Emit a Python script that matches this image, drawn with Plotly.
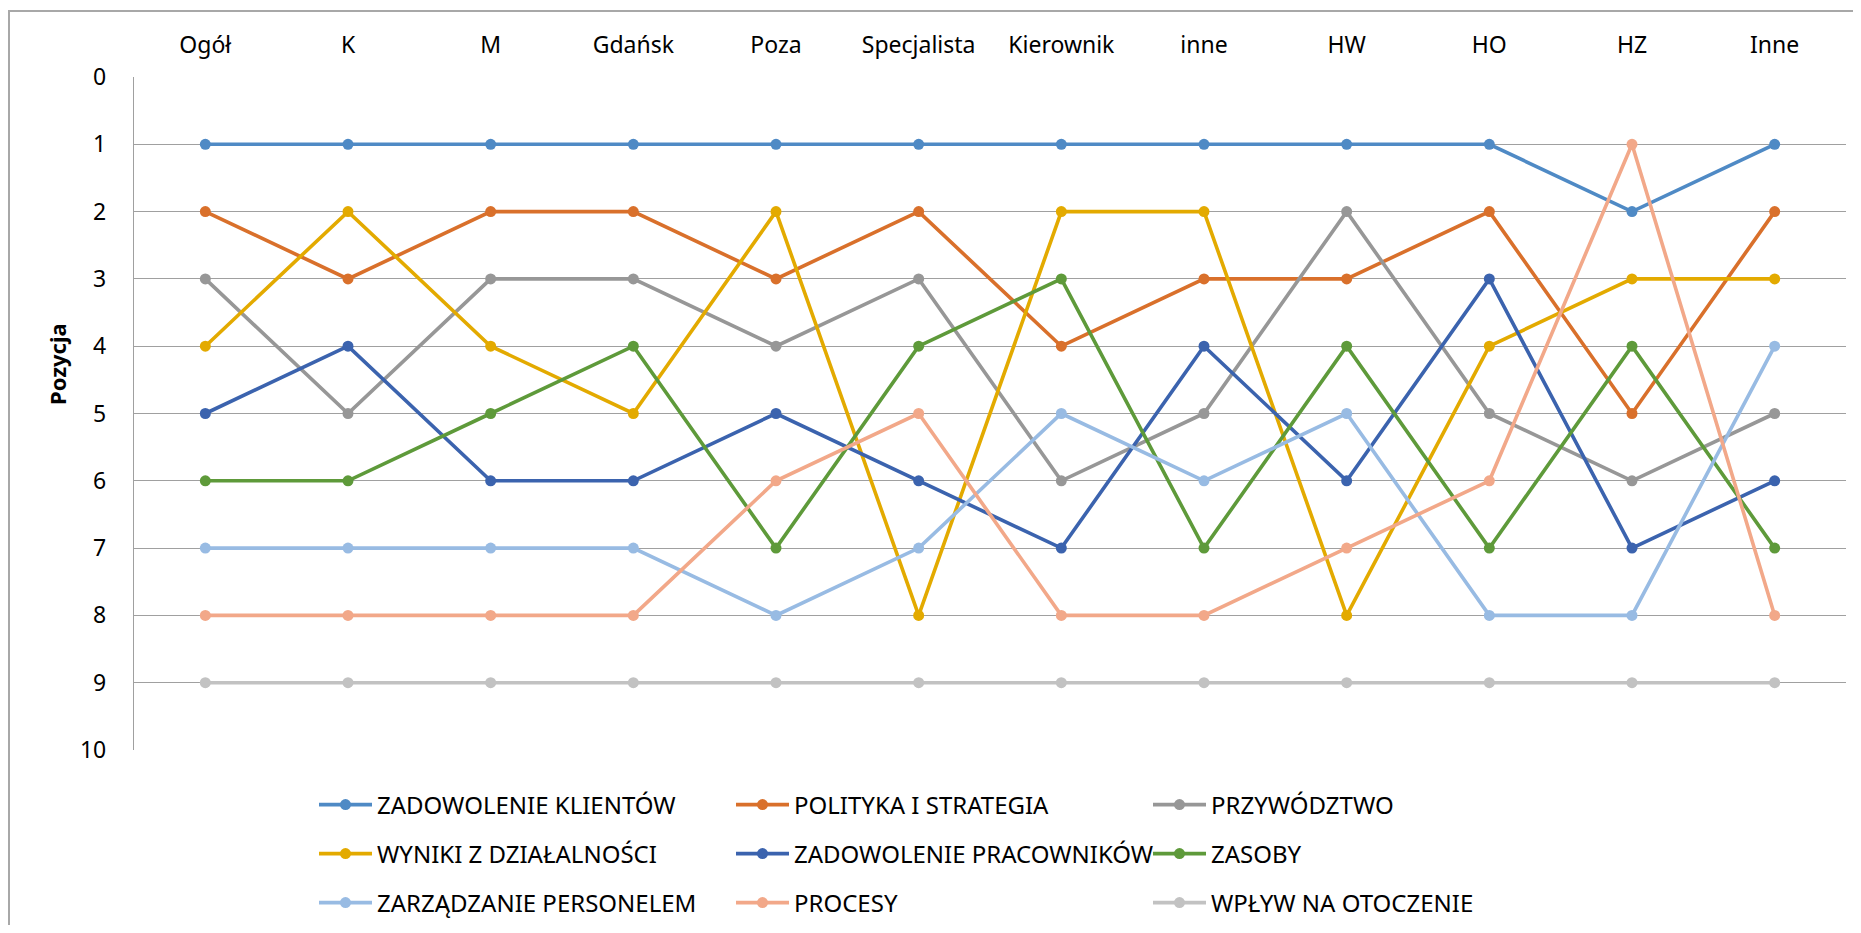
import plotly.graph_objects as go

categories = ['Ogół', 'K', 'M', 'Gdańsk', 'Poza', 'Specjalista', 'Kierownik',
              'inne', 'HW', 'HO', 'HZ', 'Inne']

series_names = ['ZADOWOLENIE KLIENTÓW', 'POLITYKA I STRATEGIA', 'PRZYWÓDZTWO',
                'WYNIKI Z DZIAŁALNOŚCI', 'ZADOWOLENIE PRACOWNIKÓW', 'ZASOBY',
                'ZARZĄDZANIE PERSONELEM', 'PROCESY', 'WPŁYW NA OTOCZENIE']

zadowolenie_klientow = [1, 1, 1, 1, 1, 1, 1, 1, 1, 1, 2, 1]
polityka_strategia = [2, 3, 2, 2, 3, 2, 4, 3, 3, 2, 5, 2]
przywodztwo = [3, 5, 3, 3, 4, 3, 6, 5, 2, 5, 6, 5]
wyniki = [4, 2, 4, 5, 2, 8, 2, 2, 8, 4, 3, 3]
zadowolenie_pracownikow = [5, 4, 6, 6, 5, 6, 7, 4, 6, 3, 7, 6]
zasoby = [6, 6, 5, 4, 7, 4, 3, 7, 4, 7, 4, 7]
zarzadzanie_personelem = [7, 7, 7, 7, 8, 7, 5, 6, 5, 8, 8, 4]
procesy = [8, 8, 8, 8, 6, 5, 8, 8, 7, 6, 1, 8]
wplyw = [9, 9, 9, 9, 9, 9, 9, 9, 9, 9, 9, 9]

y_ticks = list(range(0, 11))

all_series = [zadowolenie_klientow, polityka_strategia, przywodztwo, wyniki,
              zadowolenie_pracownikow, zasoby, zarzadzanie_personelem, procesy, wplyw]
colors = ['#4F8AC5', '#D9702B', '#979797', '#E3AA00', '#3B63AE',
          '#5E9A3A', '#98BBE3', '#F2A889', '#C2C2C2']

FONT = 'Noto Sans, sans-serif'

W, H = 1845, 917          # page body has 8px margin
OFF = 8
L, R, T, B = 134, 1846, 77, 750   # plot area in page px
pw, ph = R - L, B - T


def px_x(x):
    return (x - L) / pw


def px_y(y):
    return (B - y) / ph


fig = go.Figure()
legends = ['legend', 'legend2', 'legend3']
for i, (name, vals, c) in enumerate(zip(series_names, all_series, colors)):
    fig.add_trace(go.Scatter(
        x=categories, y=vals, name=name, mode='lines+markers',
        line=dict(color=c, width=3.6),
        marker=dict(color=c, size=11),
        legend=legends[i // 3],
    ))

leg_rows_y = [805, 854, 903]
for lg, yy in zip(legends, leg_rows_y):
    fig.update_layout({lg: dict(
        orientation='h', x=px_x(314), xanchor='left', y=px_y(yy), yanchor='middle',
        entrywidth=349, itemwidth=53, traceorder='normal',
        font=dict(family=FONT, size=24, color='#000000'),
        bgcolor='rgba(0,0,0,0)',
    )})

fig.update_xaxes(
    side='top', type='category', range=[-0.5, 11.5], automargin=False,
    showgrid=False, showline=False, zeroline=False, ticks='',
    tickfont=dict(family=FONT, size=23, color='#000000'),
    ticklabelstandoff=18,
)
fig.update_yaxes(
    range=[10, 0], tickvals=y_ticks, automargin=False,
    showgrid=True, gridcolor='#A0A0A0', gridwidth=1.3,
    showline=True, linecolor='#A0A0A0', linewidth=1.3, zeroline=False, ticks='',
    tickfont=dict(family=FONT, size=23, color='#000000'),
    ticklabelstandoff=22,
)

fig.add_annotation(text='<b>Pozycja</b>', xref='paper', yref='paper',
                   x=px_x(57), y=px_y(364), xanchor='center', yanchor='middle',
                   textangle=-90, showarrow=False,
                   font=dict(family=FONT, size=22, color='#000000'))

# outer chart border
fig.add_shape(type='rect', xref='paper', yref='paper',
              x0=px_x(9), x1=px_x(1900), y0=px_y(1000), y1=px_y(11),
              line=dict(color='#A8A8A8', width=2), layer='below')

fig.update_layout(
    width=W, height=H,
    margin=dict(l=L - OFF, r=W + OFF - R, t=T - OFF, b=H + OFF - B, autoexpand=False),
    plot_bgcolor='white', paper_bgcolor='white',
    font=dict(family=FONT),
    showlegend=True,
)

fig.write_html("out.html")
